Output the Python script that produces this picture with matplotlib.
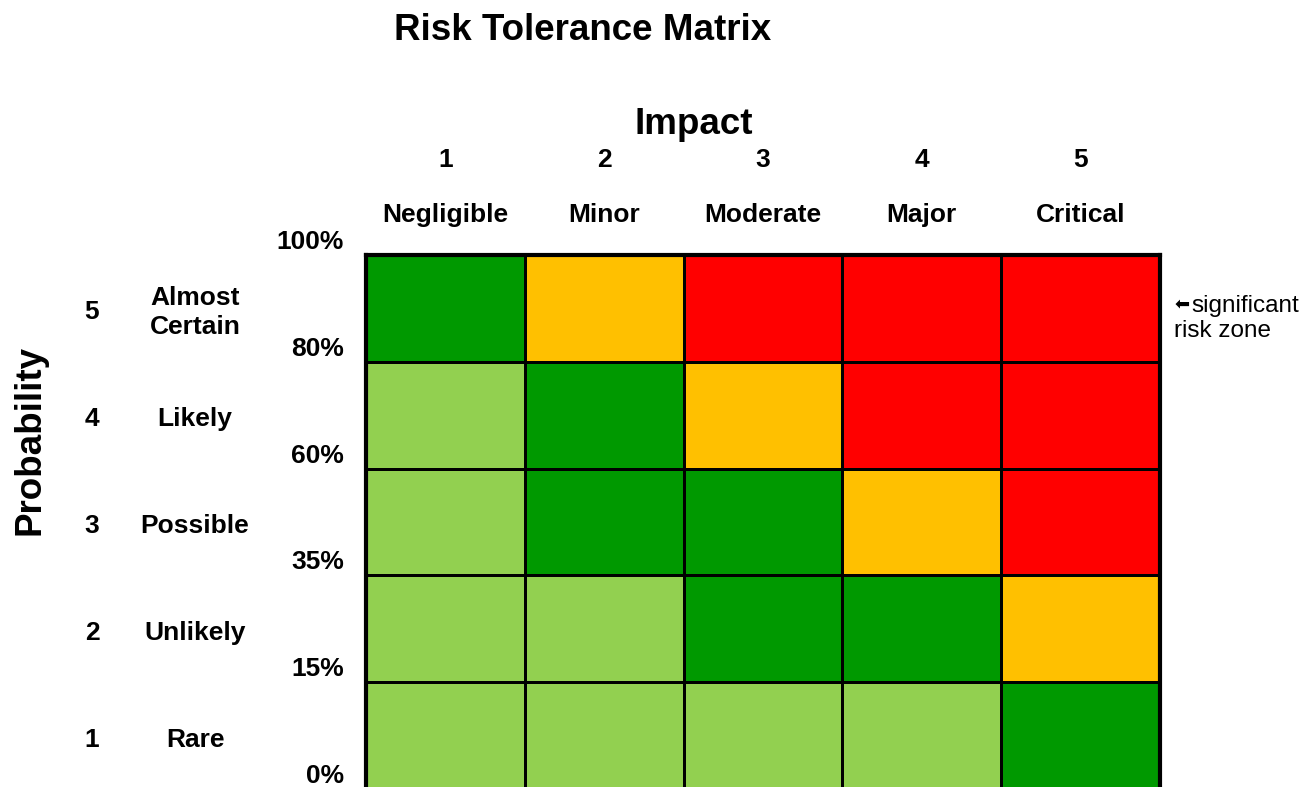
import matplotlib
matplotlib.use("Agg")
import matplotlib.pyplot as plt
import numpy as np
from matplotlib.colors import ListedColormap, BoundaryNorm
import matplotlib.transforms as mtransforms

plt.rcParams['font.family'] = ['Liberation Sans', 'DejaVu Sans']

title = "Risk Tolerance Matrix"
impact_nums = ["1", "2", "3", "4", "5"]
impact_names = ["Negligible", "Minor", "Moderate", "Major", "Critical"]
prob_nums = ["1", "2", "3", "4", "5"]               # bottom to top
prob_names = ["Rare", "Unlikely", "Possible", "Likely", "Almost\nCertain"]
pct_labels = ["0%", "15%", "35%", "60%", "80%", "100%"]
# risk level per cell, rows bottom (Rare) to top (Almost Certain)
# 0 = low (light green), 1 = acceptable (green), 2 = medium (orange), 3 = high (red)
risk = [
    [0, 0, 0, 0, 1],
    [0, 0, 1, 1, 2],
    [0, 1, 1, 2, 3],
    [0, 1, 2, 3, 3],
    [1, 2, 3, 3, 3],
]
level_colors = ["#92D050", "#009900", "#FFC000", "#FF0000"]
note_arrow = "\u2b05"
note_line1 = "significant"
note_line2 = "risk zone"

W, H = 1315, 787
fig = plt.figure(figsize=(W / 100, H / 100), dpi=100)

def fx(px):
    return px / W

def fy(py):
    return 1 - py / H

left, right, top, bottom = 366, 1160, 255, 789
ax = fig.add_axes([fx(left), fy(bottom), fx(right) - fx(left), fy(top) - fy(bottom)])

cmap = ListedColormap(level_colors)
norm = BoundaryNorm(np.arange(-0.5, len(level_colors) + 0.5, 1), cmap.N)
data = np.array(risk)
ax.pcolormesh(np.arange(6), np.arange(6), data, cmap=cmap, norm=norm,
              edgecolors="black", linewidth=2)
ax.set_xlim(0, 5)
ax.set_ylim(0, 5)
ax.set_xticks([])
ax.set_yticks([])
for s in ax.spines.values():
    s.set_linewidth(3)
    s.set_color("black")

# title
fig.text(fx(583), fy(31), title, ha="center", va="center", fontsize=26.5, fontweight="bold")
# Impact axis label
fig.text(fx(694), fy(124), "Impact", ha="center", va="center", fontsize=26.5, fontweight="bold")
# Probability axis label
fig.text(fx(30), fy(440), "Probability", ha="center", va="center", rotation=90,
         fontsize=26.5, fontweight="bold")

# column labels: x in data, y in figure
tcol = mtransforms.blended_transform_factory(ax.transData, fig.transFigure)
for i, (n, name) in enumerate(zip(impact_nums, impact_names)):
    ax.text(i + 0.5, fy(160), n, transform=tcol, ha="center", va="center",
            fontsize=19, fontweight="bold", clip_on=False)
    ax.text(i + 0.5, fy(215), name, transform=tcol, ha="center", va="center",
            fontsize=19, fontweight="bold", clip_on=False)

# row labels: x in figure, y in data
trow = mtransforms.blended_transform_factory(fig.transFigure, ax.transData)
down = mtransforms.ScaledTranslation(0, -4 / 100, fig.dpi_scale_trans)
for j, (n, name) in enumerate(zip(prob_nums, prob_names)):
    ax.text(fx(92), j + 0.5, n, transform=trow + down, ha="center", va="center",
            fontsize=19, fontweight="bold", clip_on=False)
    ax.text(fx(195), j + 0.5, name, transform=trow + down, ha="center", va="center",
            fontsize=19, fontweight="bold", clip_on=False, linespacing=1.3)

# percentage labels at row boundaries
offset = mtransforms.ScaledTranslation(0, 13 / 100, fig.dpi_scale_trans)
for k, lab in enumerate(pct_labels):
    ax.text(fx(344), k, lab, transform=trow + offset, ha="right", va="center",
            fontsize=19, fontweight="bold", clip_on=False)

# annotation
fig.text(fx(1175), fy(304), note_arrow, ha="left", va="center", fontsize=13,
         family=["DejaVu Sans"])
fig.text(fx(1191), fy(306), note_line1, ha="left", va="center", fontsize=17.5)
fig.text(fx(1174), fy(331), note_line2, ha="left", va="center", fontsize=17.5)

fig.savefig("out.png", dpi=100)
